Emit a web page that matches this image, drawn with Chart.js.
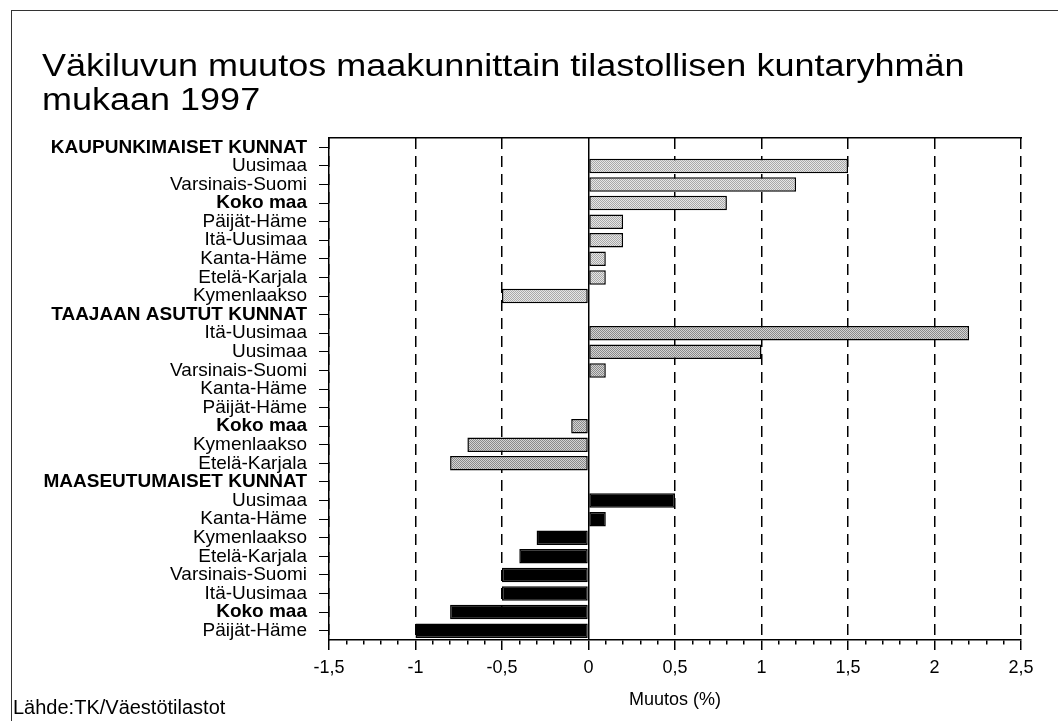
<!DOCTYPE html>
<html><head><meta charset="utf-8">
<script src="https://cdn.jsdelivr.net/npm/chart.js@4/dist/chart.umd.min.js"></script>
<style>
html,body{margin:0;padding:0;background:#fff;}
#wrap{position:relative;width:1058px;height:721px;overflow:hidden;font-family:"Liberation Sans",Arial,sans-serif;color:#000;}
#frame{position:absolute;left:11px;top:10px;right:-4px;bottom:-4px;border-top:1px solid #333;border-left:1px solid #333;}
#title{position:absolute;left:42px;top:49px;font-size:36px;line-height:38px;white-space:nowrap;transform:scale(1,0.88);transform-origin:0 0;}
#source{position:absolute;left:13px;top:696px;font-size:20px;white-space:nowrap;}
canvas{position:absolute;left:0;top:0;}
</style></head><body>
<div id="wrap"><div id="frame"></div>
<canvas id="c" width="1058" height="721"></canvas>
<div id="title">Väkiluvun muutos maakunnittain tilastollisen kuntaryhmän<br>mukaan 1997</div>
<div id="source">Lähde:TK/Väestötilastot</div></div>
<script>
const categories = ['KAUPUNKIMAISET KUNNAT','Uusimaa','Varsinais-Suomi','Koko maa','Päijät-Häme','Itä-Uusimaa','Kanta-Häme','Etelä-Karjala','Kymenlaakso',
  'TAAJAAN ASUTUT KUNNAT','Itä-Uusimaa','Uusimaa','Varsinais-Suomi','Kanta-Häme','Päijät-Häme','Koko maa','Kymenlaakso','Etelä-Karjala',
  'MAASEUTUMAISET KUNNAT','Uusimaa','Kanta-Häme','Kymenlaakso','Etelä-Karjala','Varsinais-Suomi','Itä-Uusimaa','Koko maa','Päijät-Häme'];
const values = [null,1.5,1.2,0.8,0.2,0.2,0.1,0.1,-0.5,
  null,2.2,1.0,0.1,0,0,-0.1,-0.7,-0.8,
  null,0.5,0.1,-0.3,-0.4,-0.5,-0.5,-0.8,-1.0];
const groups = [0,0,0,0,0,0,0,0,0, 1,1,1,1,1,1,1,1,1, 2,2,2,2,2,2,2,2,2];
const boldLabels = ['KAUPUNKIMAISET KUNNAT','TAAJAAN ASUTUT KUNNAT','MAASEUTUMAISET KUNNAT','Koko maa'];
const xTickValues = [-1.5,-1,-0.5,0,0.5,1,1.5,2,2.5];
const xTickLabels = ['-1,5','-1','-0,5','0','0,5','1','1,5','2','2,5'];
const xTitle = 'Muutos (%)';

function makePattern(c1, c2){
  const p = document.createElement('canvas'); p.width = 2; p.height = 2;
  const g = p.getContext('2d');
  g.fillStyle = c2; g.fillRect(0,0,2,2);
  g.fillStyle = c1; g.fillRect(0,0,1,1); g.fillRect(1,1,1,1);
  return document.getElementById('c').getContext('2d').createPattern(p,'repeat');
}
const fills = [makePattern('#a8a8a8','#e6e6e6'), makePattern('#8a8a8a','#d4d4d4'), '#000000'];
const majorIndex = v => xTickValues.findIndex(t => Math.abs(t - v) < 1e-6);

Chart.defaults.font.family = '"Liberation Sans", Arial, sans-serif';
Chart.defaults.color = '#000';

new Chart(document.getElementById('c'), {
  type: 'bar',
  data: {
    labels: categories,
    datasets: [{
      data: values,
      backgroundColor: ctx => fills[groups[ctx.dataIndex]],
      borderColor: '#000',
      borderWidth: 1.5,
      borderSkipped: false,
      barPercentage: 0.78,
      categoryPercentage: 1.0
    }]
  },
  options: {
    indexAxis: 'y',
    responsive: false,
    animation: false,
    layout: { padding: { top: 138, left: 0, right: 37, bottom: 0 } },
    plugins: { legend: { display: false }, tooltip: { enabled: false } },
    scales: {
      y: {
        type: 'category',
        offset: true,
        afterFit: s => { s.width = 329; },
        grid: { display: true, drawOnChartArea: false, offset: false, tickLength: 10, color: '#000', tickColor: '#000' },
        border: { display: true, color: '#000', width: 1.5 },
        ticks: {
          autoSkip: false, padding: 12, color: '#000',
          font: ctx => ({ size: 19, weight: boldLabels.includes(categories[ctx.index]) ? 'bold' : 'normal' })
        }
      },
      x: {
        type: 'linear',
        position: 'bottom',
        min: -1.5, max: 2.5,
        afterFit: s => { s.height = 81; },
        ticks: {
          stepSize: 0.1, autoSkip: false, maxRotation: 0, padding: 7, color: '#000',
          font: { size: 18 },
          callback: v => { const i = majorIndex(v); return i >= 0 ? xTickLabels[i] : ''; }
        },
        grid: {
          display: true, drawOnChartArea: true, tickLength: 10, lineWidth: 1.5,
          color: ctx => (ctx.tick && majorIndex(ctx.tick.value) >= 0) ? '#000' : 'rgba(0,0,0,0)',
          tickColor: '#000',
          tickBorderDash: ctx => (ctx.tick && majorIndex(ctx.tick.value) >= 0) ? [] : [4, 100]
        },
        border: {
          display: true, color: '#000', width: 1.5,
          dash: ctx => (ctx.tick && Math.abs(ctx.tick.value) < 1e-6) ? [] : [11, 7]
        },
        title: { display: true, text: xTitle, color: '#000', font: { size: 18 }, padding: { top: 0, bottom: 10 } }
      },
      xTop: {
        type: 'linear',
        position: 'top',
        min: -1.5, max: 2.5,
        ticks: { display: false },
        grid: { display: false, drawTicks: false },
        border: { display: true, color: '#000', width: 1.5 }
      }
    }
  }
});
</script>
</body></html>
